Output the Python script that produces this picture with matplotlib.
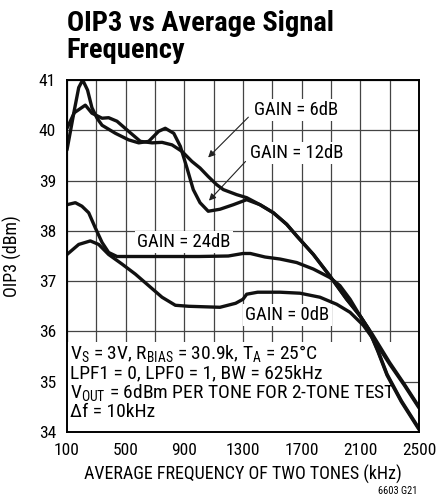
import matplotlib
matplotlib.use("Agg")
import matplotlib.pyplot as plt

plt.rcParams['font.family'] = ['Roboto Condensed', 'DejaVu Sans']
plt.rcParams['mathtext.default'] = 'regular'

# data (kHz, dBm)
f_6db = [100, 150, 225, 270, 339, 384, 441, 520, 600, 680, 748, 816, 884, 952,
         1007, 1063, 1120, 1166, 1257, 1325, 1416, 1507, 1598, 1666, 1780, 1893,
         2007, 2098, 2155, 2220, 2282, 2380, 2500]
oip_6db = [40.04, 40.35, 40.5, 40.34, 40.24, 40.25, 40.18, 39.98, 39.78, 39.75, 39.76,
           39.71, 39.58, 39.38, 39.25, 39.08, 38.92, 38.82, 38.72, 38.66, 38.52, 38.36,
           38.13, 37.9, 37.53, 37.1, 36.64, 36.31, 36.05, 35.6, 35.13, 34.6, 34.05]

f_12db = [100, 150, 180, 207, 240, 270, 305, 339, 430, 520, 589, 657, 725, 770, 828,
          873, 918, 961, 1007, 1063, 1143, 1234, 1325, 1416, 1507, 1598, 1666, 1780,
          1893, 2007, 2098, 2155, 2220, 2282, 2380, 2500]
oip_12db = [39.61, 40.4, 40.85, 41.0, 40.8, 40.45, 40.24, 40.1, 39.94, 39.81, 39.75,
            39.78, 39.98, 40.04, 39.94, 39.68, 39.25, 38.82, 38.56, 38.39, 38.43, 38.52,
            38.62, 38.52, 38.36, 38.13, 37.9, 37.53, 37.1, 36.64, 36.31, 36.05, 35.62,
            35.15, 34.62, 34.07]

f_24db = [100, 157, 202, 248, 293, 339, 384, 441, 600, 800, 1000, 1200, 1300, 1350,
          1450, 1552, 1666, 1780, 1893, 1961, 2030, 2100, 2180, 2300, 2400, 2500]
oip_24db = [38.52, 38.56, 38.49, 38.36, 38.06, 37.77, 37.57, 37.49, 37.49, 37.49,
            37.49, 37.5, 37.55, 37.55, 37.48, 37.44, 37.37, 37.24, 37.07, 36.91, 36.64,
            36.3, 35.95, 35.38, 34.95, 34.5]

f_0db = [100, 180, 259, 316, 384, 475, 566, 657, 748, 839, 930, 1143, 1250, 1300, 1325,
         1400, 1552, 1689, 1825, 1939, 2030, 2121, 2200, 2300, 2400, 2500]
oip_0db = [37.53, 37.73, 37.8, 37.73, 37.53, 37.34, 37.14, 36.91, 36.68, 36.52, 36.5,
           36.48, 36.56, 36.64, 36.74, 36.78, 36.78, 36.76, 36.68, 36.54, 36.38, 36.12,
           35.8, 35.35, 34.93, 34.48]

x_major = [100, 500, 900, 1300, 1700, 2100, 2500]
x_minor = [300, 700, 1100, 1500, 1900, 2300]
y_ticks = [34, 35, 36, 37, 38, 39, 40, 41]

fig = plt.figure(figsize=(4.37, 5.0), dpi=100)
ax = fig.add_axes([0.1533, 0.136, 0.8055, 0.704])

for f, v in [(f_6db, oip_6db), (f_12db, oip_12db), (f_24db, oip_24db), (f_0db, oip_0db)]:
    ax.plot(f, v, color='#111111', lw=2.4, zorder=5, solid_capstyle='round')

ax.set_xlim(100, 2500)
ax.set_ylim(34, 41)
ax.set_xticks(x_major)
ax.set_xticks(x_minor, minor=True)
ax.set_yticks(y_ticks)
ax.grid(True, which='both', color='#444444', lw=0.9, zorder=1)
ax.tick_params(which='both', length=0, labelsize=12.5)
ax.tick_params(axis='x', pad=8)
ax.tick_params(axis='y', pad=8)
for s in ax.spines.values():
    s.set_linewidth(1.4)
    s.set_zorder(6)

ax.set_xlabel('AVERAGE FREQUENCY OF TWO TONES (kHz)', fontsize=13, labelpad=5)
ax.set_ylabel('OIP3 (dBm)', fontsize=13, labelpad=12)

fig.text(0.153, 0.98, 'OIP3 vs Average Signal\nFrequency', fontsize=20.5,
         fontweight='bold', ha='left', va='top', linespacing=1.0)
fig.text(0.955, 0.008, '6603 G21', fontsize=7.5, ha='right', va='bottom')

# white box for the conditions text
ax.fill_between([100, 2384], 34, 35.79, color='white', zorder=2, lw=0)
cond = ('$V_S$ = 3V, $R_{BIAS}$ = 30.9k, $T_A$ = 25°C\n'
        'LPF1 = 0, LPF0 = 1, BW = 625kHz\n'
        '$V_{OUT}$ = 6dBm PER TONE FOR 2-TONE TEST\n'
        'Δf = 10kHz')
ax.text(118, 35.77, cond, fontsize=14, ha='left', va='top', linespacing=1.0, zorder=3)

bb = dict(facecolor='white', edgecolor='none', pad=1.5)
ax.text(1372, 40.41, 'GAIN = 6dB', fontsize=13.5, ha='left', va='center', bbox=bb, zorder=4)
ax.text(1348, 39.55, 'GAIN = 12dB', fontsize=13.5, ha='left', va='center', bbox=bb, zorder=4)
ax.text(578, 37.77, 'GAIN = 24dB', fontsize=13.5, ha='left', va='center', bbox=bb, zorder=4)
ax.text(1316, 36.33, 'GAIN = 0dB', fontsize=13.5, ha='left', va='center', bbox=bb, zorder=4)

ap = dict(arrowstyle='-|>', color='#222222', lw=0.8, mutation_scale=10)
ax.annotate('', xy=(1049, 39.42), xytext=(1350, 40.3), arrowprops=ap, zorder=4)
ax.annotate('', xy=(1055, 38.56), xytext=(1330, 39.42), arrowprops=ap, zorder=4)

fig.savefig('out.png', dpi=100)
